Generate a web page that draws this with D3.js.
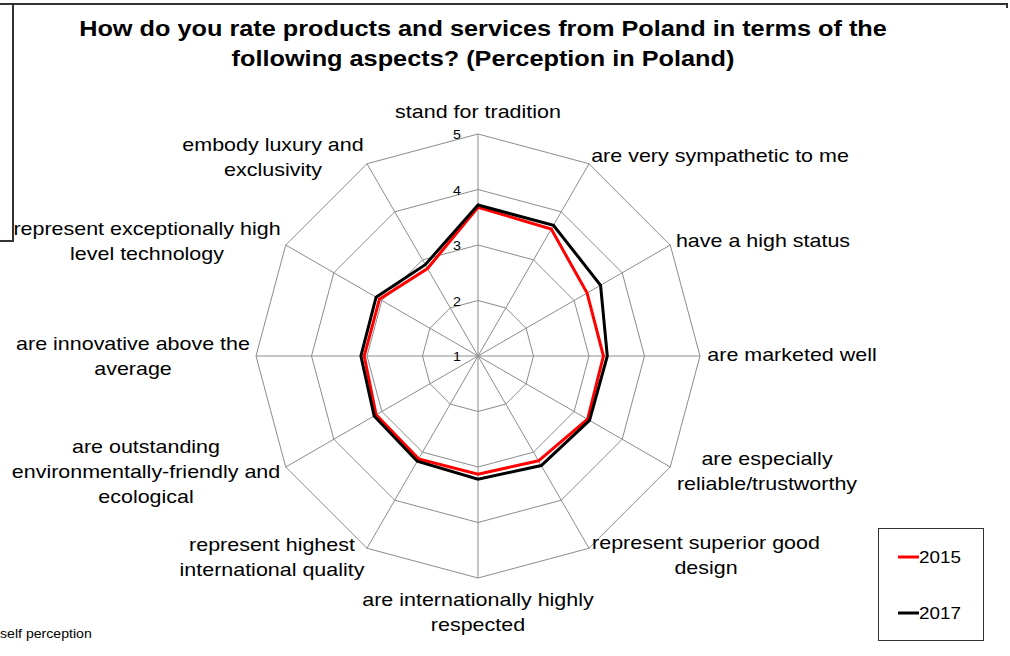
<!DOCTYPE html>
<html>
<head>
<meta charset="utf-8">
<script src="https://cdn.jsdelivr.net/npm/d3@7.9.0/dist/d3.min.js"></script>
<style>
  body { margin: 0; background: #fff; }
  svg { display: block; font-family: Arial, "Liberation Sans", sans-serif; }
</style>
</head>
<body>
<svg id="chart" width="1010" height="656"></svg>
<script>
// categories, clockwise from the top
const categories = [
  ['stand for tradition'],
  ['are very sympathetic to me'],
  ['have a high status'],
  ['are marketed well'],
  ['are especially', 'reliable/trustworthy'],
  ['represent superior good', 'design'],
  ['are internationally highly', 'respected'],
  ['represent highest', 'international quality'],
  ['are outstanding', 'environmentally-friendly and', 'ecological'],
  ['are innovative above the', 'average'],
  ['represent exceptionally high', 'level technology'],
  ['embody luxury and', 'exclusivity']
];
const values2015 = [3.68, 3.64, 3.27, 3.26, 3.28, 3.18, 3.13, 3.14, 3.12, 3.05, 3.05, 2.82];
const values2017 = [3.72, 3.72, 3.55, 3.33, 3.32, 3.28, 3.22, 3.19, 3.16, 3.11, 3.12, 2.90];
const seriesNames = ['2015', '2017'];
const seriesColors = ['#ff0000', '#000000'];
const ticks = [1, 2, 3, 4, 5];

// label block anchors: [center x, first baseline]
const labelPos = [
  [478, 118], [720, 162], [763, 247], [792, 361], [767, 465], [706, 549],
  [478, 606], [272, 551], [146, 453], [133, 350], [147, 235], [273, 151]
];

const svg = d3.select('#chart');
const cx = 478, cy = 356, R = 222;

const r = d3.scaleLinear().domain([1, 5]).range([0, R]);
const angle = d3.scaleLinear().domain([0, categories.length]).range([0, 2 * Math.PI]);

// the reference text is a bit wide, so stretch it horizontally
function wideText(parent, x, y, sx) {
  return parent.append('text')
    .attr('transform', `translate(${x},${y}) scale(${sx},1)`);
}

// frame lines: box cut off at the left, plus the long top rule
svg.append('path')
  .attr('d', 'M0,241 H13 V4 M0,4 H1007 V8')
  .attr('fill', 'none')
  .attr('stroke', '#333')
  .attr('stroke-width', 2);

// title
wideText(svg, 483, 36, 1.15)
  .attr('text-anchor', 'middle')
  .attr('font-size', 22).attr('font-weight', 'bold')
  .text('How do you rate products and services from Poland in terms of the');
wideText(svg, 483, 66, 1.15)
  .attr('text-anchor', 'middle')
  .attr('font-size', 22).attr('font-weight', 'bold')
  .text('following aspects? (Perception in Poland)');

const g = svg.append('g').attr('transform', `translate(${cx},${cy})`);

// rings
const ringLine = d3.lineRadial()
  .angle((d, i) => angle(i))
  .radius(d => r(d))
  .curve(d3.curveLinearClosed);

ticks.slice(1).forEach(t => {
  g.append('path')
    .attr('d', ringLine(categories.map(() => t)))
    .attr('fill', 'none')
    .attr('stroke', '#8c8c8c')
    .attr('stroke-width', 1);
});

// spokes
categories.forEach((c, i) => {
  const a = angle(i);
  g.append('line')
    .attr('x1', 0).attr('y1', 0)
    .attr('x2', r(5) * Math.sin(a))
    .attr('y2', -r(5) * Math.cos(a))
    .attr('stroke', '#8c8c8c')
    .attr('stroke-width', 1);
});

// tick labels
ticks.forEach(t => {
  wideText(g, -17, -r(t) + 5, 1.1)
    .attr('text-anchor', 'end')
    .attr('font-size', 13)
    .text(t);
});

// series
[values2015, values2017].forEach((vals, s) => {
  g.append('path')
    .attr('d', ringLine(vals))
    .attr('fill', 'none')
    .attr('stroke', seriesColors[s])
    .attr('stroke-width', 3)
    .attr('stroke-linejoin', 'miter');
});

// category labels
categories.forEach((lines, i) => {
  const t = wideText(svg, labelPos[i][0], labelPos[i][1], 1.13)
    .attr('text-anchor', 'middle')
    .attr('font-size', 19);
  lines.forEach((ln, j) => {
    t.append('tspan')
      .attr('x', 0)
      .attr('y', j * 25)
      .text(ln);
  });
});

// legend
const lg = svg.append('g');
lg.append('rect')
  .attr('x', 878.5).attr('y', 528.5)
  .attr('width', 105).attr('height', 112)
  .attr('fill', '#fff')
  .attr('stroke', '#333')
  .attr('stroke-width', 1);
seriesNames.forEach((name, i) => {
  const y = 557 + i * 56;
  lg.append('line')
    .attr('x1', 898).attr('x2', 919)
    .attr('y1', y).attr('y2', y)
    .attr('stroke', seriesColors[i])
    .attr('stroke-width', 3);
  wideText(lg, 919, y + 6, 1.11)
    .attr('font-size', 17)
    .text(name);
});

// footnote
wideText(svg, 0, 638, 1.13)
  .attr('font-size', 12.5)
  .text('self perception');
</script>
</body>
</html>
